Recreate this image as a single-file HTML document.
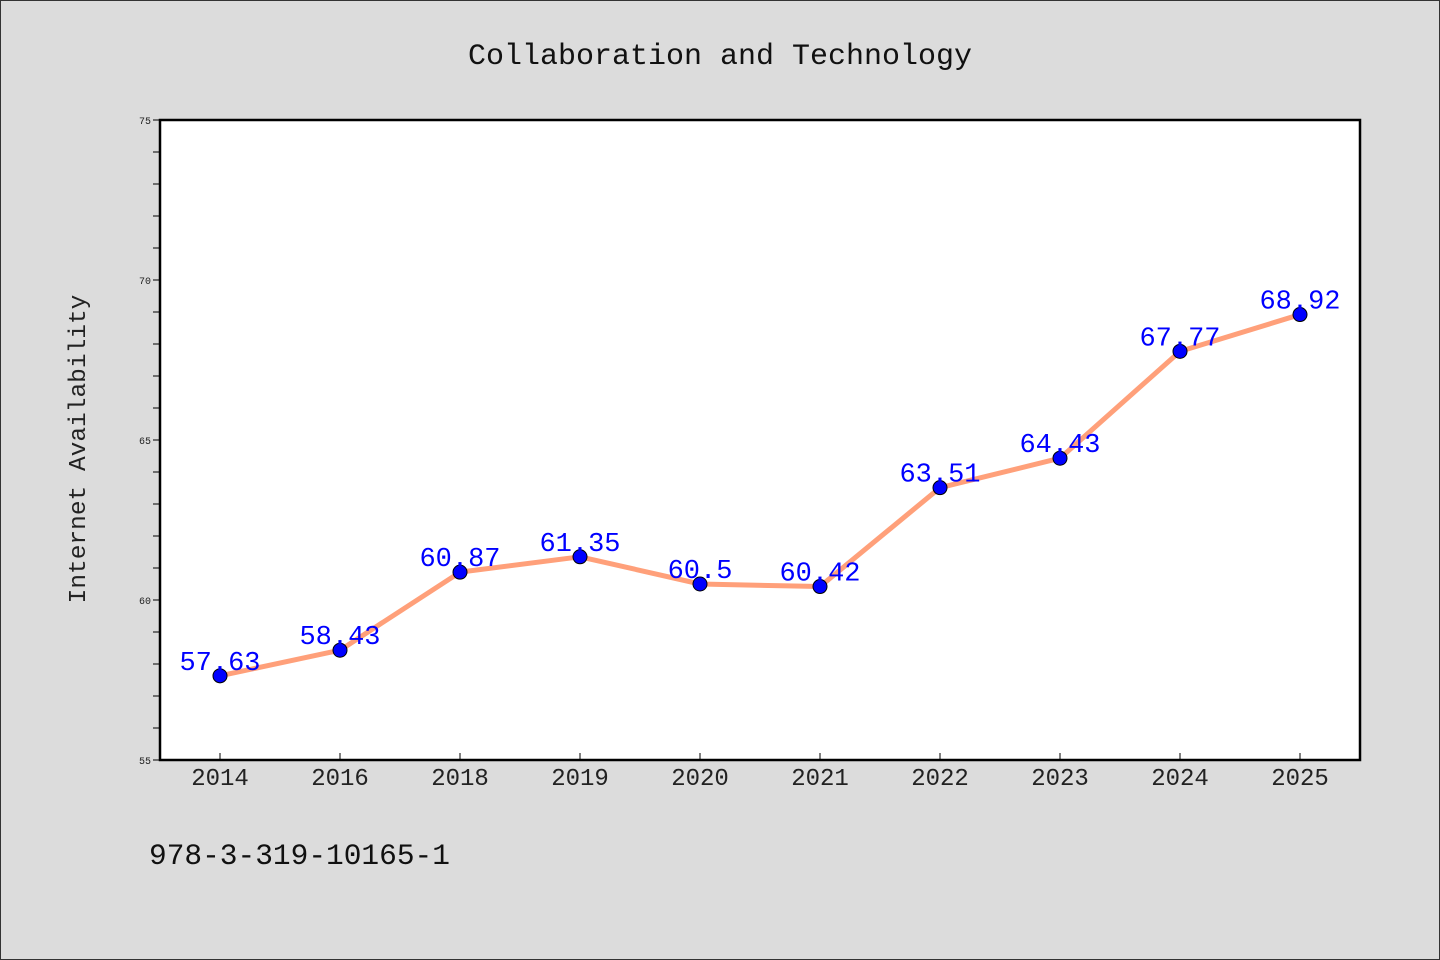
<!DOCTYPE html>
<html><head><meta charset="utf-8"><style>
html,body{margin:0;padding:0;background:#dcdcdc;}
svg{display:block;font-family:"WenQuanYi Zen Hei Mono","Liberation Mono",monospace;}
</style></head><body>
<svg id="chart" width="1440" height="960" xmlns="http://www.w3.org/2000/svg">
<rect x="0.5" y="0.5" width="1439" height="959" fill="#dcdcdc" stroke="#333" stroke-width="1"/>
<text x="720" y="64" text-anchor="middle" font-size="30" fill="#111">Collaboration and Technology</text>
<rect x="160" y="120" width="1200" height="640" fill="#fff"/>
<g id="axes"></g>
<g id="marks"></g>
<rect x="160" y="120" width="1200" height="640" fill="none" stroke="#000" stroke-width="2.5"/>
<text transform="translate(85,449) rotate(-90)" text-anchor="middle" font-size="24.5" fill="#222">Internet Availability</text>
<text x="149" y="864" font-size="29.5" fill="#111">978-3-319-10165-1</text>
</svg>
<script>
const categories=["2014","2016","2018","2019","2020","2021","2022","2023","2024","2025"];
const values=[57.63,58.43,60.87,61.35,60.5,60.42,63.51,64.43,67.77,68.92];
const yTicks=[55,60,65,70,75];
const yMin=55,yMax=75;
const NS="http://www.w3.org/2000/svg";
const L=160,R=1360,T=120,B=760;
const bw=(R-L)/categories.length;
function x(i){return L+bw*(i+0.5);}
function y(v){return B-(v-yMin)/(yMax-yMin)*(B-T);}
function mk(t,a,p){const e=document.createElementNS(NS,t);for(const k in a)e.setAttribute(k,a[k]);p.appendChild(e);return e;}
const ax=document.getElementById('axes'),mg=document.getElementById('marks');
for(let v=yMin;v<=yMax;v++){
 const l=mk('line',{x1:153,x2:160,y1:y(v),y2:y(v),stroke:'#000','stroke-width':1},ax);
 
 
}
yTicks.forEach(v=>{
 const t=mk('text',{x:151,y:y(v)+4,'text-anchor':'end','font-size':10,fill:'#222'},ax);
 
 
 t.textContent=v;
});
categories.forEach((c,i)=>{
 const l=mk('line',{x1:x(i),x2:x(i),y1:753,y2:760,stroke:'#000','stroke-width':1},ax);
 
 
 const t=mk('text',{x:x(i),y:785,'text-anchor':'middle','font-size':24,fill:'#222'},ax);
 
 
 t.textContent=c;
});
const line=mk('polyline',{points:values.map((v,i)=>x(i)+','+y(v)).join(' '),fill:'none',stroke:'#ffa07a','stroke-width':5,'stroke-linejoin':'round'},mg);


values.forEach((v,i)=>{
 const c=mk('circle',{cx:x(i),cy:y(v),r:7,fill:'#0000ff',stroke:'#000','stroke-width':1},mg);
 
 
});
values.forEach((v,i)=>{
 const t=mk('text',{x:x(i),y:y(v)-6,'text-anchor':'middle','font-size':27,fill:'#0000ff'},mg);
 
 
 t.textContent=v;
});
</script>
</body></html>
